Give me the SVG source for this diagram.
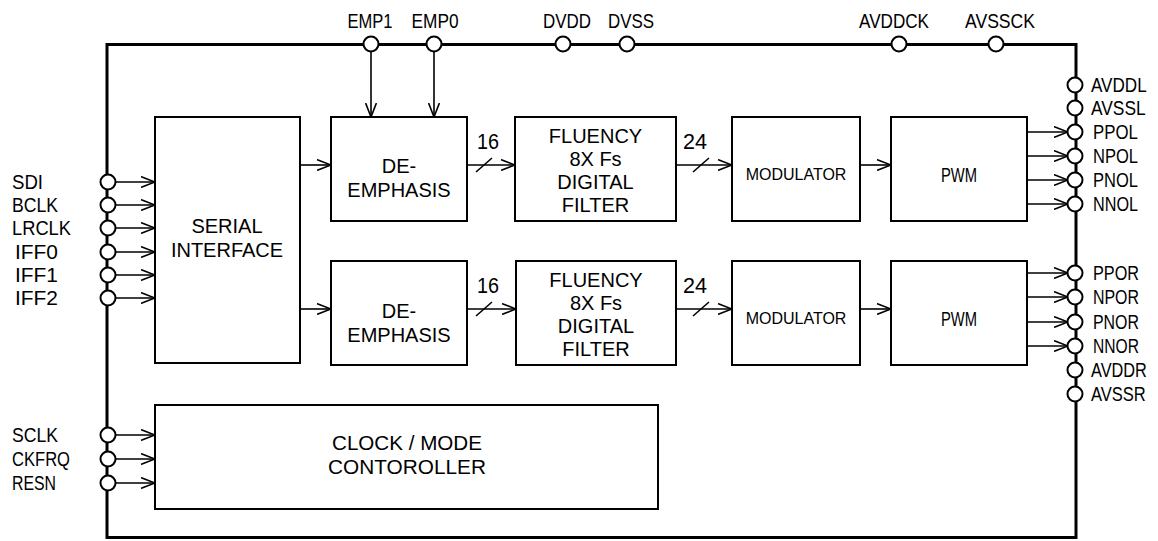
<svg xmlns="http://www.w3.org/2000/svg" width="1158" height="541" viewBox="0 0 1158 541">
<style>
.frame{fill:none;stroke:#000;stroke-width:3}
.box{fill:#fff;stroke:#000;stroke-width:2}
.pin{fill:#fff;stroke:#000;stroke-width:2}
.w{fill:none;stroke:#000;stroke-width:1.6}
.t{font-family:"Liberation Sans",Arial,sans-serif;font-size:20px;fill:#000}
.n{font-size:21px}
.b{font-size:22px}
.c{text-anchor:middle}
.m{font-size:16px}
</style>
<defs>
<marker id="arr" viewBox="0 0 14 12" refX="14" refY="6" markerWidth="14" markerHeight="12" orient="auto" markerUnits="userSpaceOnUse">
<path d="M0,0.6 L14,6 L0,11.4" fill="none" stroke="#000" stroke-width="1.6"/>
</marker>
</defs>
<rect fill="#fff" x="0" y="0" width="1158" height="541"/>
<g id="frame"><rect class="frame" x="107" y="44.5" width="969" height="493"/></g>

<g id="connectors">
<line class="w" x1="371" y1="52" x2="371" y2="117" marker-end="url(#arr)"/>
<line class="w" x1="434" y1="52" x2="434" y2="117" marker-end="url(#arr)"/>
<line class="w" x1="115" y1="182" x2="155" y2="182" marker-end="url(#arr)"/>
<line class="w" x1="115" y1="205" x2="155" y2="205" marker-end="url(#arr)"/>
<line class="w" x1="115" y1="228" x2="155" y2="228" marker-end="url(#arr)"/>
<line class="w" x1="115" y1="252" x2="155" y2="252" marker-end="url(#arr)"/>
<line class="w" x1="115" y1="275" x2="155" y2="275" marker-end="url(#arr)"/>
<line class="w" x1="115" y1="298" x2="155" y2="298" marker-end="url(#arr)"/>
<line class="w" x1="115" y1="435" x2="155" y2="435" marker-end="url(#arr)"/>
<line class="w" x1="115" y1="459" x2="155" y2="459" marker-end="url(#arr)"/>
<line class="w" x1="115" y1="483" x2="155" y2="483" marker-end="url(#arr)"/>
<line class="w" x1="300" y1="165" x2="331" y2="165" marker-end="url(#arr)"/>
<line class="w" x1="300" y1="309" x2="331" y2="309" marker-end="url(#arr)"/>
<line class="w" x1="467" y1="165" x2="515" y2="165" marker-end="url(#arr)"/>
<line class="w" x1="467" y1="309" x2="516" y2="309" marker-end="url(#arr)"/>
<line class="w" x1="676" y1="165" x2="732" y2="165" marker-end="url(#arr)"/>
<line class="w" x1="676" y1="309" x2="732" y2="309" marker-end="url(#arr)"/>
<line class="w" x1="860" y1="165" x2="891" y2="165" marker-end="url(#arr)"/>
<line class="w" x1="860" y1="309" x2="891" y2="309" marker-end="url(#arr)"/>
<line class="w" x1="476" y1="172" x2="492" y2="158"/>
<line class="w" x1="476" y1="316" x2="492" y2="302"/>
<line class="w" x1="693" y1="172" x2="709" y2="158"/>
<line class="w" x1="693" y1="316" x2="709" y2="302"/>
<line class="w" x1="1027" y1="132" x2="1068" y2="132" marker-end="url(#arr)"/>
<line class="w" x1="1027" y1="156" x2="1068" y2="156" marker-end="url(#arr)"/>
<line class="w" x1="1027" y1="180" x2="1068" y2="180" marker-end="url(#arr)"/>
<line class="w" x1="1027" y1="204" x2="1068" y2="204" marker-end="url(#arr)"/>
<line class="w" x1="1027" y1="273" x2="1068" y2="273" marker-end="url(#arr)"/>
<line class="w" x1="1027" y1="297" x2="1068" y2="297" marker-end="url(#arr)"/>
<line class="w" x1="1027" y1="322" x2="1068" y2="322" marker-end="url(#arr)"/>
<line class="w" x1="1027" y1="346" x2="1068" y2="346" marker-end="url(#arr)"/>
<text class="t b c" x="488" y="149" textLength="22" lengthAdjust="spacingAndGlyphs">16</text>
<text class="t b c" x="488" y="293" textLength="22" lengthAdjust="spacingAndGlyphs">16</text>
<text class="t b c" x="695" y="149" textLength="24" lengthAdjust="spacingAndGlyphs">24</text>
<text class="t b c" x="695" y="293" textLength="24" lengthAdjust="spacingAndGlyphs">24</text>
</g>

<g id="serial"><rect class="box" x="155" y="117" width="145" height="246"/>
<text class="t c" x="227" y="233">SERIAL</text><text class="t c" x="227" y="257">INTERFACE</text></g>
<g id="deemph-l"><rect class="box" x="331" y="117" width="136" height="104"/>
<text class="t c" x="399" y="173">DE-</text><text class="t c" x="399" y="197">EMPHASIS</text></g>
<g id="filter-l"><rect class="box" x="515" y="117" width="161" height="104"/>
<text class="t c" x="595.5" y="143">FLUENCY</text><text class="t c" x="595.5" y="166">8X Fs</text><text class="t c" x="595.5" y="189">DIGITAL</text><text class="t c" x="595.5" y="212">FILTER</text></g>
<g id="mod-l"><rect class="box" x="732" y="117" width="128" height="104"/>
<text class="t c m" x="796" y="180">MODULATOR</text></g>
<g id="pwm-l"><rect class="box" x="891" y="117" width="136" height="104"/>
<text class="t c n" x="959" y="182" textLength="36" lengthAdjust="spacingAndGlyphs">PWM</text></g>
<g id="deemph-r"><rect class="box" x="331" y="261" width="136" height="104"/>
<text class="t c" x="399" y="318">DE-</text><text class="t c" x="399" y="342">EMPHASIS</text></g>
<g id="filter-r"><rect class="box" x="516" y="261" width="160" height="104"/>
<text class="t c" x="596" y="287">FLUENCY</text><text class="t c" x="596" y="310">8X Fs</text><text class="t c" x="596" y="333">DIGITAL</text><text class="t c" x="596" y="356">FILTER</text></g>
<g id="mod-r"><rect class="box" x="732" y="261" width="128" height="104"/>
<text class="t c m" x="796" y="324">MODULATOR</text></g>
<g id="pwm-r"><rect class="box" x="891" y="261" width="136" height="104"/>
<text class="t c n" x="959" y="326" textLength="36" lengthAdjust="spacingAndGlyphs">PWM</text></g>
<g id="clock"><rect class="box" x="155" y="405" width="503" height="104"/>
<text class="t c n" x="407" y="450" textLength="150" lengthAdjust="spacingAndGlyphs">CLOCK / MODE</text>
<text class="t c n" x="407" y="474" textLength="158" lengthAdjust="spacingAndGlyphs">CONTOROLLER</text></g>

<g id="pins-top">
<circle class="pin" cx="371" cy="44" r="7.5"/><text class="t c n" x="370" y="28" textLength="45" lengthAdjust="spacingAndGlyphs">EMP1</text>
<circle class="pin" cx="434" cy="44" r="7.5"/><text class="t c n" x="435" y="28" textLength="47" lengthAdjust="spacingAndGlyphs">EMP0</text>
<circle class="pin" cx="563" cy="44" r="7.5"/><text class="t c n" x="567" y="28" textLength="48" lengthAdjust="spacingAndGlyphs">DVDD</text>
<circle class="pin" cx="627" cy="44" r="7.5"/><text class="t c n" x="631" y="28" textLength="46" lengthAdjust="spacingAndGlyphs">DVSS</text>
<circle class="pin" cx="899" cy="44" r="7.5"/><text class="t c n" x="894" y="28" textLength="70" lengthAdjust="spacingAndGlyphs">AVDDCK</text>
<circle class="pin" cx="996" cy="44" r="7.5"/><text class="t c n" x="1000" y="28" textLength="70" lengthAdjust="spacingAndGlyphs">AVSSCK</text>
</g>

<g id="pins-left">
<circle class="pin" cx="108" cy="182" r="7.5"/><text class="t n" x="12" y="189" textLength="31" lengthAdjust="spacingAndGlyphs">SDI</text>
<circle class="pin" cx="108" cy="205" r="7.5"/><text class="t n" x="12" y="212" textLength="46" lengthAdjust="spacingAndGlyphs">BCLK</text>
<circle class="pin" cx="108" cy="228" r="7.5"/><text class="t n" x="12" y="235" textLength="59" lengthAdjust="spacingAndGlyphs">LRCLK</text>
<circle class="pin" cx="108" cy="252" r="7.5"/><text class="t n" x="15" y="259" textLength="43" lengthAdjust="spacingAndGlyphs">IFF0</text>
<circle class="pin" cx="108" cy="275" r="7.5"/><text class="t n" x="15" y="282" textLength="43" lengthAdjust="spacingAndGlyphs">IFF1</text>
<circle class="pin" cx="108" cy="298" r="7.5"/><text class="t n" x="15" y="305" textLength="43" lengthAdjust="spacingAndGlyphs">IFF2</text>
<circle class="pin" cx="108" cy="435" r="7.5"/><text class="t n" x="12" y="442" textLength="46" lengthAdjust="spacingAndGlyphs">SCLK</text>
<circle class="pin" cx="108" cy="459" r="7.5"/><text class="t n" x="12" y="466" textLength="58" lengthAdjust="spacingAndGlyphs">CKFRQ</text>
<circle class="pin" cx="108" cy="483" r="7.5"/><text class="t n" x="12" y="490" textLength="44" lengthAdjust="spacingAndGlyphs">RESN</text>
</g>

<g id="pins-right">
<circle class="pin" cx="1075" cy="85" r="7.5"/><text class="t n" transform="translate(1091,92) scale(0.814,1)">AVDDL</text>
<circle class="pin" cx="1075" cy="108" r="7.5"/><text class="t n" transform="translate(1091,115) scale(0.827,1)">AVSSL</text>
<circle class="pin" cx="1075" cy="132" r="7.5"/><text class="t n" transform="translate(1093,139) scale(0.8,1)">PPOL</text>
<circle class="pin" cx="1075" cy="156" r="7.5"/><text class="t n" transform="translate(1093,163) scale(0.787,1)">NPOL</text>
<circle class="pin" cx="1075" cy="180" r="7.5"/><text class="t n" transform="translate(1093,187) scale(0.787,1)">PNOL</text>
<circle class="pin" cx="1075" cy="204" r="7.5"/><text class="t n" transform="translate(1093,211) scale(0.772,1)">NNOL</text>
<circle class="pin" cx="1075" cy="273" r="7.5"/><text class="t n" transform="translate(1093,280) scale(0.773,1)">PPOR</text>
<circle class="pin" cx="1075" cy="297" r="7.5"/><text class="t n" transform="translate(1093,304) scale(0.758,1)">NPOR</text>
<circle class="pin" cx="1075" cy="322" r="7.5"/><text class="t n" transform="translate(1093,329) scale(0.758,1)">PNOR</text>
<circle class="pin" cx="1075" cy="346" r="7.5"/><text class="t n" transform="translate(1093,353) scale(0.744,1)">NNOR</text>
<circle class="pin" cx="1075" cy="370" r="7.5"/><text class="t n" transform="translate(1091,377) scale(0.776,1)">AVDDR</text>
<circle class="pin" cx="1075" cy="394" r="7.5"/><text class="t n" transform="translate(1091,401) scale(0.787,1)">AVSSR</text>
</g>
</svg>
